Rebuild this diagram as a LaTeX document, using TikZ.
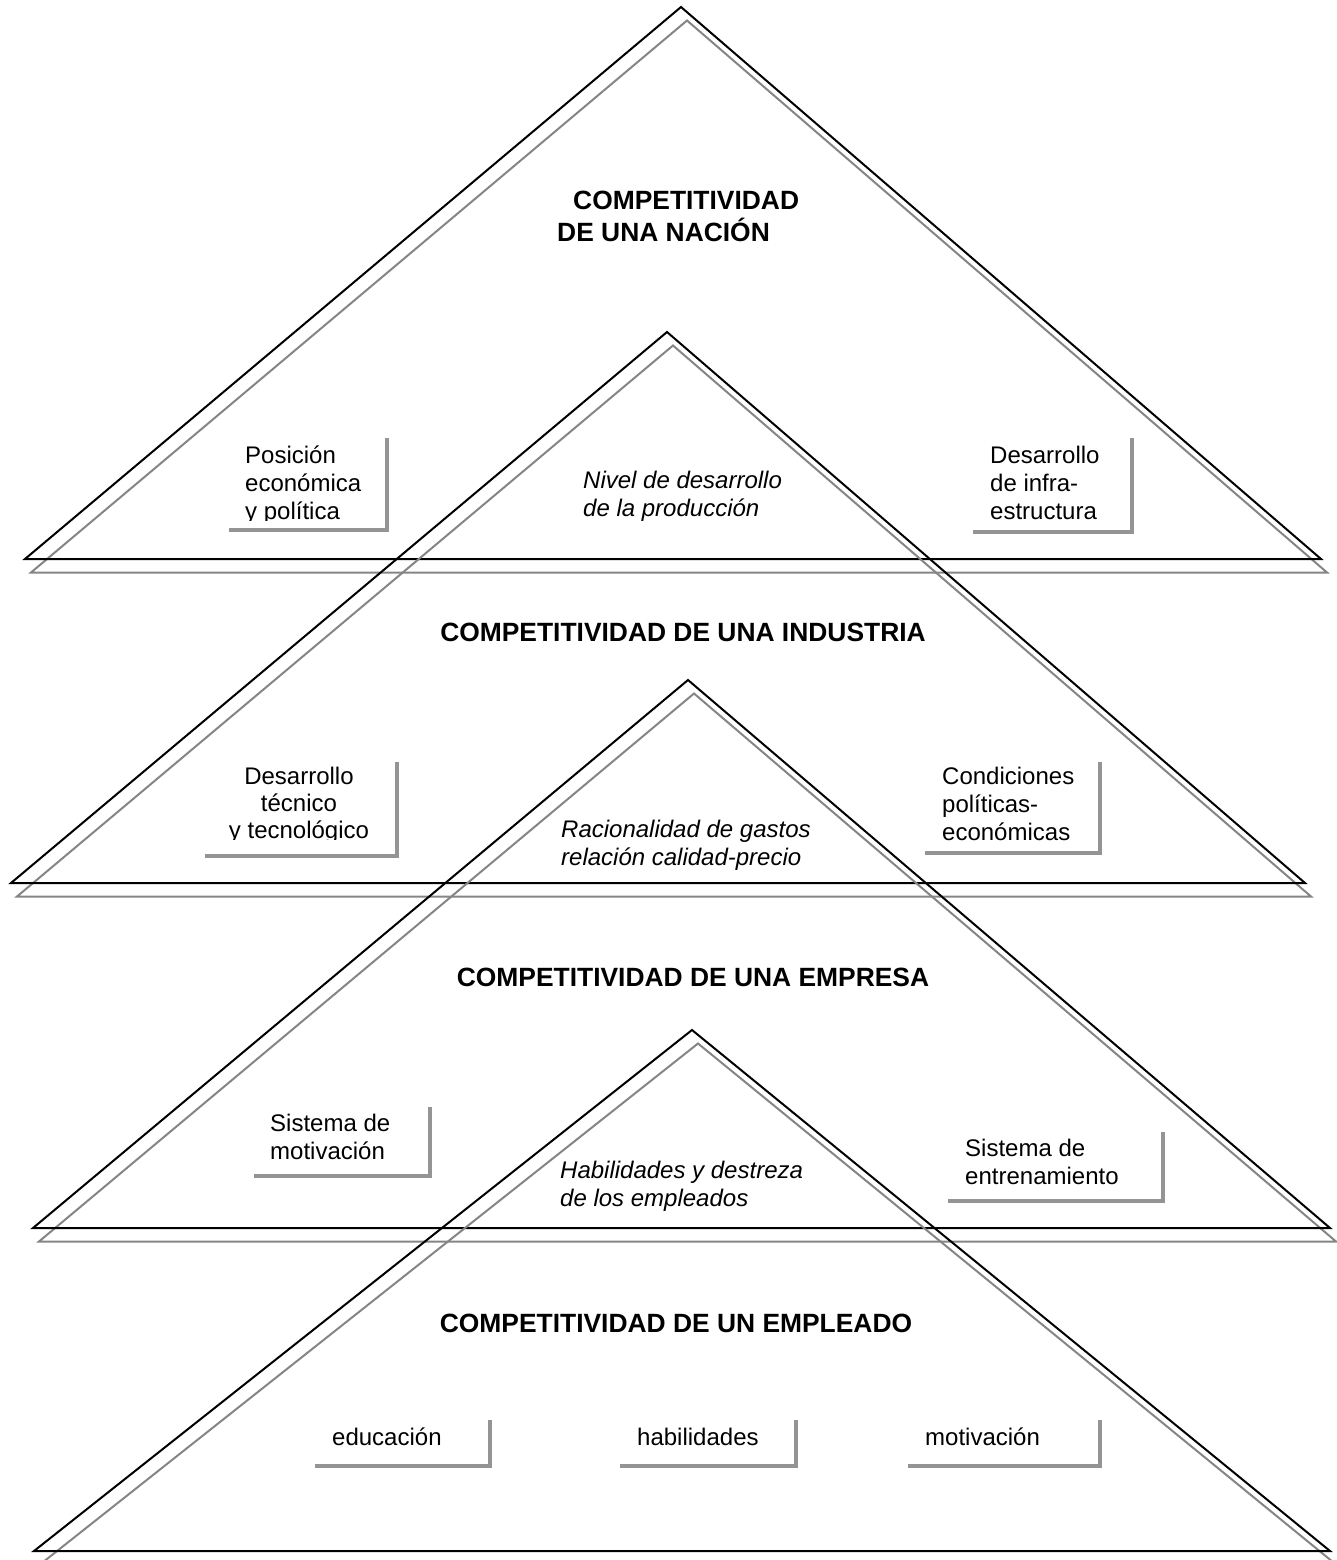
\documentclass[tikz,border=0pt]{standalone}
\usepackage{fontspec}
\usetikzlibrary{calc}
\setmainfont{Liberation Sans}
\begin{document}
\begin{tikzpicture}[x=1pt,y=-1pt,
  edge/.style={line width=2pt, line join=miter, black},
  shade/.style={line width=2pt, line join=miter, black!48},
  boxshadow/.style={line width=4pt, black!42},
  lbl/.style={anchor=base west, inner sep=0pt, align=left, font=\fontsize{24}{28}\selectfont},
  lblc/.style={anchor=base, inner sep=0pt, align=center, font=\fontsize{24}{27}\selectfont},
  ital/.style={anchor=base west, inner sep=0pt, align=left, font=\fontsize{24}{28}\selectfont\itshape},
  title/.style={anchor=base, inner sep=0pt, font=\fontsize{26.4}{32}\selectfont\bfseries},
  titlel/.style={anchor=base west, inner sep=0pt, align=left, font=\fontsize{26.4}{32}\selectfont\bfseries}
]
\useasboundingbox (0,0) rectangle (1337,1560);

% corner points of the four levels
\coordinate (a1) at (681,7);    \coordinate (l1) at (25,559);   \coordinate (r1) at (1321,559);
\coordinate (a2) at (667,332);  \coordinate (l2) at (11,883);   \coordinate (r2) at (1305,883);
\coordinate (a3) at (688,680);  \coordinate (l3) at (33,1228);  \coordinate (r3) at (1330,1228);
\coordinate (a4) at (692,1030); \coordinate (l4) at (34,1551);  \coordinate (r4) at (1330,1551);

% each triangle with its offset grey outline
\foreach \i in {1,2,3,4}{
  \draw[shade] ($(a\i)+(6,13.5)$) -- ($(l\i)+(6,13.5)$) -- ($(r\i)+(6,13.5)$) -- cycle;
  \draw[edge] (a\i) -- (l\i) -- (r\i) -- cycle;
}

% L-shaped shadows of the small text boxes: left x, right x, top y, bottom y
\newcommand{\boxshade}[4]{\draw[boxshadow] (#1,#4) -- (#2,#4) -- (#2,#3);}
\boxshade{229}{387}{438}{530}
\boxshade{973}{1132}{438}{532}
\boxshade{205}{397}{762}{856}
\boxshade{925}{1100}{762}{853}
\boxshade{254}{430}{1107}{1176}
\boxshade{948}{1163}{1132}{1201}
\boxshade{315}{490}{1420}{1466}
\boxshade{620}{796}{1420}{1466}
\boxshade{908}{1100}{1420}{1466}

% level 1
\node[titlel] (t1) at (557,241) {\hspace*{16pt}COMPETITIVIDAD\\DE UNA NACIÓN};
\begin{scope}
  \clip (200,430) rectangle (400,520.5);
  \node[lbl] (pos) at (245,519) {Posición\\económica\\y política};
\end{scope}
\node[ital] (niv) at (583,516) {Nivel de desarrollo\\de la producción};
\node[lbl] (inf) at (990,519) {Desarrollo\\de infra-\\estructura};

% level 2
\node[title] (t2) at (683,641) {COMPETITIVIDAD DE UNA INDUSTRIA};
\begin{scope}
  \clip (190,750) rectangle (400,839.5);
  \node[lblc] (tec) at (299,838) {Desarrollo\\técnico\\y tecnológico};
\end{scope}
\node[ital] (rac) at (561,865) {Racionalidad de gastos\\relación calidad-precio};
\node[lbl] (con) at (942,840) {Condiciones\\políticas-\\económicas};

% level 3
\node[title] (t3) at (693,986) {COMPETITIVIDAD DE UNA EMPRESA};
\node[lbl] (mot) at (270,1159) {Sistema de\\motivación};
\node[ital] (hab) at (560,1206) {Habilidades y destreza\\de los empleados};
\node[lbl] (ent) at (965,1184) {Sistema de\\entrenamiento};

% level 4
\node[title] (t4) at (676,1332) {COMPETITIVIDAD DE UN EMPLEADO};
\node[lbl] (edu) at (332,1445) {educación};
\node[lbl] (hbl) at (637,1445) {habilidades};
\node[lbl] (mtv) at (925,1445) {motivación};
\end{tikzpicture}
\end{document}
